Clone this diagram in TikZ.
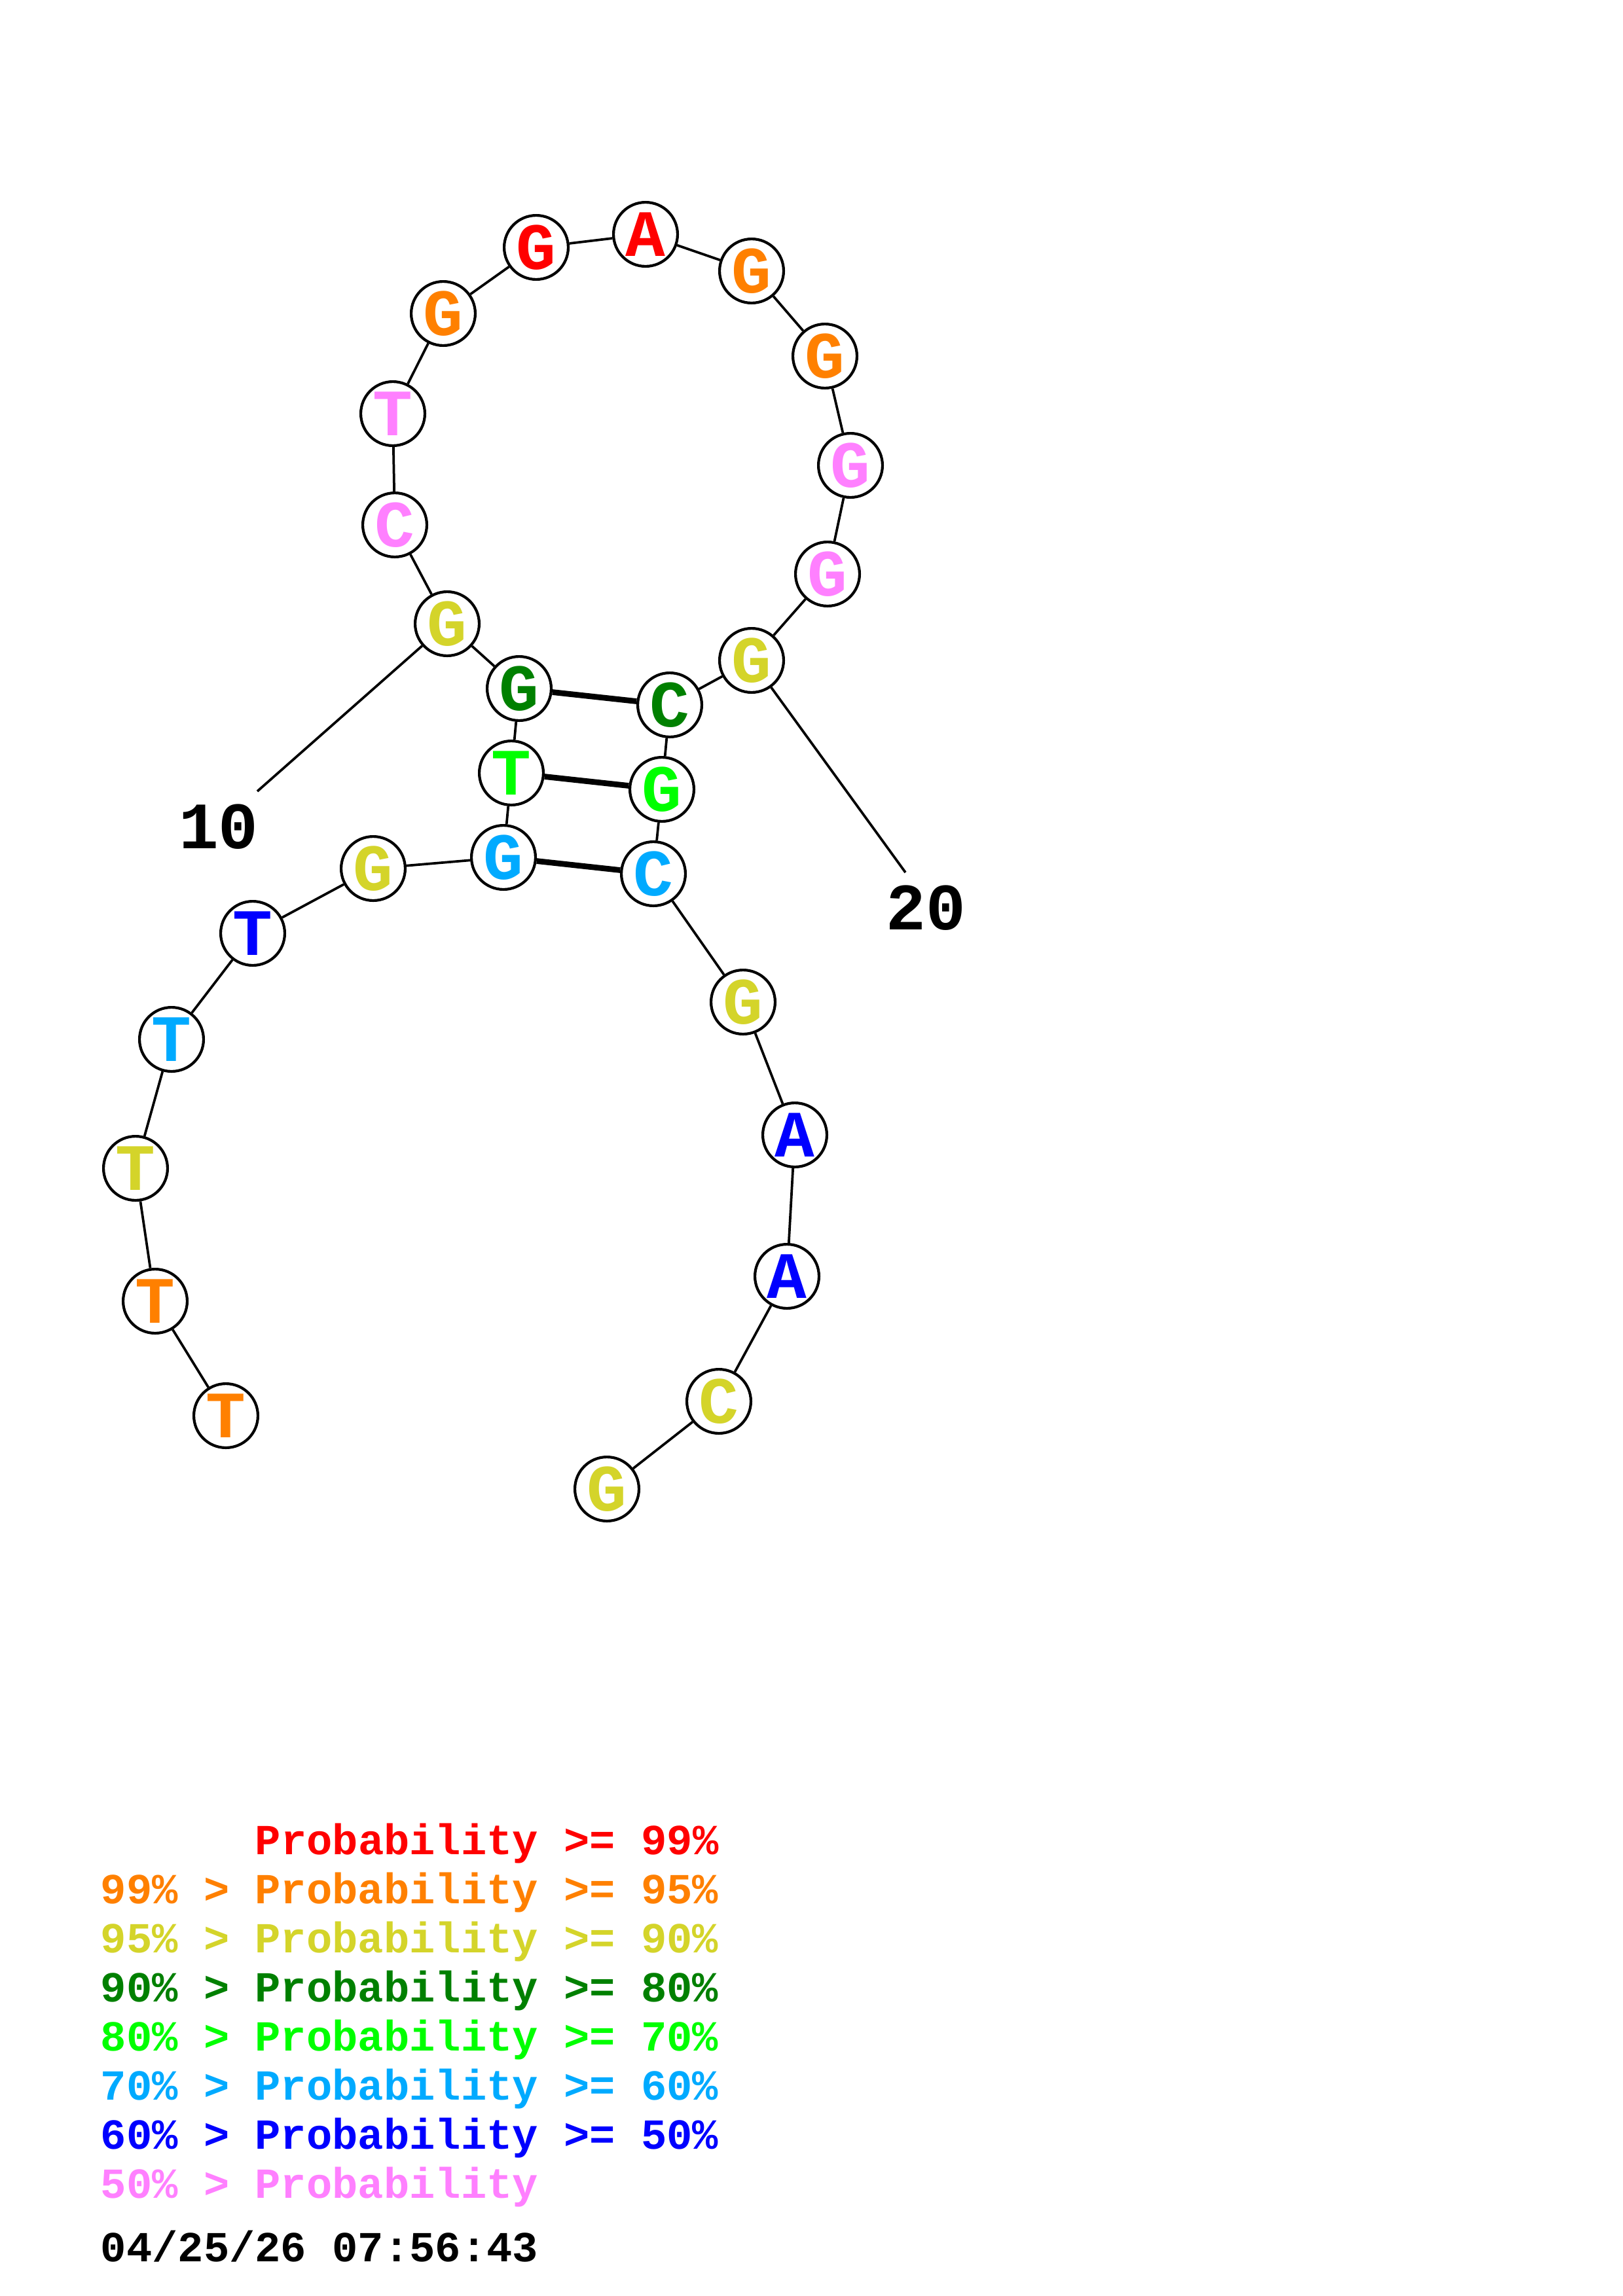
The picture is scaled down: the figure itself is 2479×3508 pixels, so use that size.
\documentclass[tikz,border=0pt]{standalone}
\usepackage{fontspec}
\newfontfamily\courfont{Liberation Mono}
\definecolor{pRed}{HTML}{FF0000}
\definecolor{pOrange}{HTML}{FF8000}
\definecolor{pYellow}{HTML}{D4D42A}
\definecolor{pDkGreen}{HTML}{008000}
\definecolor{pGreen}{HTML}{00FF00}
\definecolor{pLtBlue}{HTML}{00AAFF}
\definecolor{pBlue}{HTML}{0000FF}
\definecolor{pPink}{HTML}{FF80FF}
\begin{document}
\begin{tikzpicture}[x=0.24013pt,y=-0.24013pt,
  base/.style={circle,draw=black,line width=1.0pt,fill=white,minimum size=23.5pt,inner sep=0pt,
    font=\courfont\bfseries\fontsize{24.3pt}{24.3pt}\selectfont,text height=15.85pt,text depth=0pt},
  bb/.style={line width=0.9pt},
  pairline/.style={line width=2.1pt},
  numlab/.style={inner sep=0pt,font=\courfont\bfseries\fontsize{24.3pt}{24.3pt}\selectfont},
  leg/.style={anchor=base west,inner sep=0pt,font=\courfont\bfseries\fontsize{15.73pt}{15.73pt}\selectfont}
]
\fill[white] (0,0) rectangle (2479,3508);
\useasboundingbox (0,0) rectangle (2479,3508);

% nucleotides
\node[base,text=pOrange]  (n1)  at (345,2163) {T};
\node[base,text=pOrange]  (n2)  at (237,1988) {T};
\node[base,text=pYellow]  (n3)  at (207,1785) {T};
\node[base,text=pLtBlue]  (n4)  at (262,1588) {T};
\node[base,text=pBlue]    (n5)  at (386,1426) {T};
\node[base,text=pYellow]  (n6)  at (570,1327) {G};
\node[base,text=pLtBlue]  (n7)  at (769,1310) {G};
\node[base,text=pGreen]   (n8)  at (781,1181) {T};
\node[base,text=pDkGreen] (n9)  at (793,1052) {G};
\node[base,text=pYellow]  (n10) at (683,953)  {G};
\node[base,text=pPink]    (n11) at (603,802)  {C};
\node[base,text=pPink]    (n12) at (600,632)  {T};
\node[base,text=pOrange]  (n13) at (677,479)  {G};
\node[base,text=pRed]     (n14) at (819,378)  {G};
\node[base,text=pRed]     (n15) at (986,358)  {A};
\node[base,text=pOrange]  (n16) at (1148,414) {G};
\node[base,text=pOrange]  (n17) at (1260,544) {G};
\node[base,text=pPink]    (n18) at (1299,711) {G};
\node[base,text=pPink]    (n19) at (1264,877) {G};
\node[base,text=pYellow]  (n20) at (1148,1009) {G};
\node[base,text=pDkGreen] (n21) at (1023,1077) {C};
\node[base,text=pGreen]   (n22) at (1011,1206) {G};
\node[base,text=pLtBlue]  (n23) at (998,1335) {C};
\node[base,text=pYellow]  (n24) at (1135,1531) {G};
\node[base,text=pBlue]    (n25) at (1214,1734) {A};
\node[base,text=pBlue]    (n26) at (1202,1950) {A};
\node[base,text=pYellow]  (n27) at (1098,2141) {C};
\node[base,text=pYellow]  (n28) at (927,2275) {G};

% backbone
\foreach \i [evaluate=\i as \j using int(\i+1)] in {1,...,27}
  \draw[bb] (n\i) -- (n\j);

% base pairs
\draw[pairline] (n9) -- (n21);
\draw[pairline] (n8) -- (n22);
\draw[pairline] (n7) -- (n23);

% numbering
\node[numlab] (l10) at (334,1263) {10};
\node[numlab] (l20) at (1414,1387) {20};
\coordinate (e10) at (393,1209);
\coordinate (e20) at (1383,1333);
\draw[bb] (n10) -- (e10);
\draw[bb] (n20) -- (e20);

% legend
\node[leg,text=pRed]     (g1) at (389,2833) {Probability >= 99\%};
\node[leg,text=pOrange]  (g2) at (153,2908) {99\% > Probability >= 95\%};
\node[leg,text=pYellow]  (g3) at (153,2983) {95\% > Probability >= 90\%};
\node[leg,text=pDkGreen] (g4) at (153,3058) {90\% > Probability >= 80\%};
\node[leg,text=pGreen]   (g5) at (153,3133) {80\% > Probability >= 70\%};
\node[leg,text=pLtBlue]  (g6) at (153,3208) {70\% > Probability >= 60\%};
\node[leg,text=pBlue]    (g7) at (153,3283) {60\% > Probability >= 50\%};
\node[leg,text=pPink]    (g8) at (153,3358) {50\% > Probability};
\node[leg,text=black]    (g9) at (153,3455) {04/25/26 07:56:43};
\end{tikzpicture}
\end{document}
